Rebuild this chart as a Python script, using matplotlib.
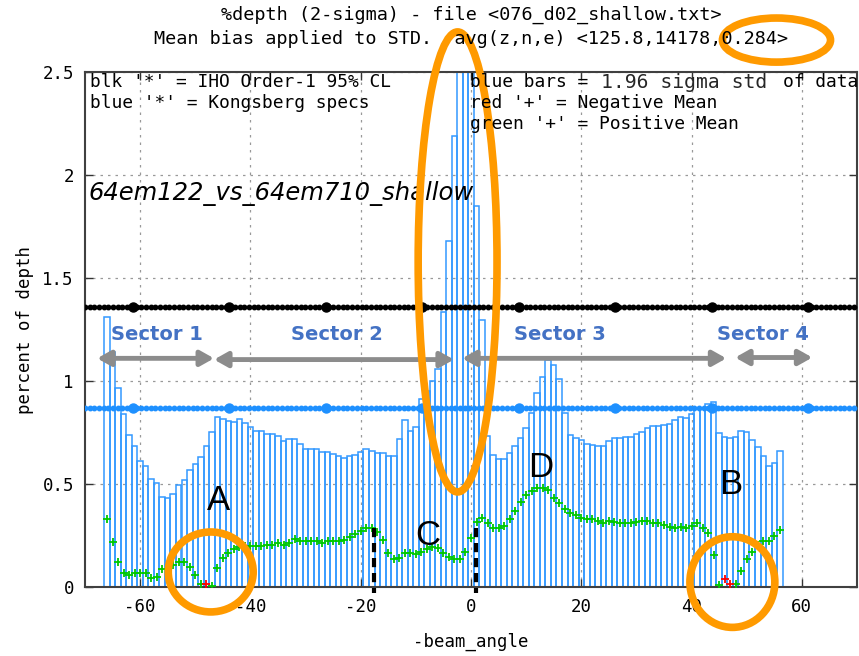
import matplotlib.pyplot as plt
import numpy as np
from matplotlib.patches import Ellipse

plt.rcParams['axes.unicode_minus'] = False
plt.rcParams['font.family'] = 'DejaVu Sans Mono'

# ----------------- DATA -----------------
angles = np.arange(-66, 57)

# 1.96 sigma std of data (percent of depth), one bar per degree
std_2sigma = [
    1.309, 1.142, 0.968, 0.838, 0.738, 0.686, 0.613, 0.587, 0.524, 0.506,
    0.438, 0.430, 0.451, 0.494, 0.519, 0.568, 0.596, 0.633, 0.684, 0.751,
    0.824, 0.814, 0.808, 0.801, 0.814, 0.795, 0.777, 0.757, 0.757, 0.741,
    0.744, 0.731, 0.710, 0.717, 0.717, 0.696, 0.668, 0.668, 0.668, 0.655,
    0.655, 0.646, 0.636, 0.628, 0.636, 0.643, 0.657, 0.668, 0.661, 0.649,
    0.649, 0.636, 0.636, 0.717, 0.811, 0.757, 0.778, 0.914, 0.950, 1.000,
    1.057, 1.337, 1.681, 2.190, 2.900, 3.400, 3.100, 1.851, 1.296, 0.733,
    0.639, 0.621, 0.621, 0.649, 0.684, 0.725, 0.773, 0.846, 0.940, 1.018,
    1.102, 1.078, 1.011, 0.846, 0.738, 0.725, 0.712, 0.696, 0.691, 0.686,
    0.686, 0.709, 0.725, 0.725, 0.730, 0.730, 0.743, 0.751, 0.773, 0.780,
    0.783, 0.785, 0.793, 0.811, 0.827, 0.821, 0.838, 0.866, 0.866, 0.890,
    0.900, 0.749, 0.730, 0.723, 0.730, 0.757, 0.751, 0.715, 0.680, 0.636,
    0.587, 0.602, 0.662,
]

# positive mean (green '+'), nan where mean is negative
nan = np.nan
pos_mean = [
    0.329, 0.220, 0.123, 0.070, 0.058, 0.066, 0.070, 0.070, 0.045, 0.050,
    0.086, 0.086, 0.105, 0.123, 0.123, 0.095, 0.058, 0.015, nan, 0.003,
    0.091, 0.139, 0.167, 0.183, 0.194, 0.201, 0.201, 0.201, 0.201, 0.204,
    0.204, 0.212, 0.204, 0.215, 0.231, 0.223, 0.223, 0.223, 0.223, 0.215,
    0.223, 0.223, 0.223, 0.228, 0.244, 0.256, 0.272, 0.285, 0.288, 0.265,
    0.228, 0.163, 0.134, 0.142, 0.163, 0.163, 0.159, 0.168, 0.183, 0.196,
    0.188, 0.163, 0.146, 0.134, 0.134, 0.168, 0.239, 0.317, 0.333, 0.312,
    0.288, 0.288, 0.296, 0.329, 0.371, 0.414, 0.447, 0.468, 0.479, 0.479,
    0.471, 0.430, 0.406, 0.377, 0.361, 0.350, 0.333, 0.330, 0.329, 0.322,
    0.312, 0.322, 0.317, 0.309, 0.309, 0.309, 0.317, 0.322, 0.322, 0.309,
    0.309, 0.301, 0.293, 0.285, 0.293, 0.288, 0.296, 0.309, 0.285, 0.260,
    0.155, 0.010, nan, nan, 0.015, 0.078, 0.134, 0.170, 0.205, 0.224,
    0.224, 0.250, 0.277,
]

# negative mean (red '+')
neg_angles = [-48, 46, 47]
neg_mean = [0.016, 0.038, 0.015]

iho_level = 1.358        # IHO Order-1 95% CL
kongsberg_level = 0.867  # Kongsberg specs

# sector annotations
sector_names = ["Sector 1", "Sector 2", "Sector 3", "Sector 4"]
sector_start = [-67.8, -46.6, -1.6, 47.9]
sector_end = [-46.6, -3.1, 46.3, 61.9]
sector_label_x = [-57.0, -24.4, 16.2, 52.9]
letters = ["A", "B", "C", "D"]
letter_x = [-45.8, 47.1, -7.9, 12.7]
letter_y = [0.422, 0.500, 0.252, 0.578]
dash_x = [-17.65, 0.83]

W, H = 859, 656
fig = plt.figure(figsize=(W / 100, H / 100), dpi=100)
ax = fig.add_axes([85 / W, 1 - 587 / H, 772 / W, 515 / H])

blue = '#3399ff'

# bars (unfilled, gnuplot style boxes)
ax.bar(angles, std_2sigma, width=1.0, fill=False, edgecolor=blue, linewidth=1.1, zorder=2)

# reference lines: dense dots + bigger dots
xs = np.arange(-70, 70.01, 0.85)
big = np.arange(-61.3, 70, 17.5)
for lvl, col in [(iho_level, 'black'), (kongsberg_level, '#1e90ff')]:
    ax.plot(xs, np.full_like(xs, lvl), color=col, lw=1.6, marker='o', ms=3.2,
            mec=col, mfc=col, zorder=3, clip_on=True)
    ax.plot(big, np.full_like(big, lvl), 'o', color=col, ms=6.5, zorder=3)

# means
ax.plot(angles, pos_mean, '+', color='#00c800', ms=6, mew=1.3, zorder=4)
ax.plot(neg_angles, neg_mean, '+', color='red', ms=6, mew=1.3, zorder=4)

ax.set_xlim(-70, 70)
ax.set_ylim(0, 2.5)
ax.set_xticks(np.arange(-60, 61, 20))
ax.set_yticks([0, 0.5, 1, 1.5, 2, 2.5])
ax.set_yticklabels(['0', '0.5', '1', '1.5', '2', '2.5'])
ax.tick_params(direction='in', length=6, width=1, top=True, right=True,
               labelsize=12.5, pad=8, color='#333333')
ax.grid(True, color='#999999', linestyle=(0, (2, 4)), linewidth=0.9)
ax.set_axisbelow(True)
for sp in ax.spines.values():
    sp.set_color('#404040')
    sp.set_linewidth(1.5)

ax.set_xlabel('-beam_angle', fontsize=12.5, labelpad=12)
ax.set_ylabel('percent of depth', fontsize=12.5, labelpad=6)

# title
fig.text(471 / W, 1 - 15 / H, '%depth (2-sigma) - file <076_d02_shallow.txt>',
         ha='center', va='center', fontsize=13.3)
fig.text(471 / W, 1 - 39 / H, 'Mean bias applied to STD.  avg(z,n,e) <125.8,14178,0.284>',
         ha='center', va='center', fontsize=13.3)

# key text
def ftxt(x, y, s, **kw):
    fig.text(x / W, 1 - y / H, s, va='center', ha='left', zorder=6, **kw)

ftxt(90, 82, "blk '*' = IHO Order-1 95% CL", fontsize=12.9)
ftxt(90, 103, "blue '*' = Kongsberg specs", fontsize=12.9)
ftxt(470, 82, "blue bars = ", fontsize=12.9)
ftxt(601, 83, "1.96 sigma std", fontsize=14.2, color='#262626')
ftxt(783, 82, "of data", fontsize=12.9, clip_on=False)
ftxt(470, 103, "red '+' = Negative Mean", fontsize=12.9)
ftxt(470, 124, "green '+' = Positive Mean", fontsize=12.9)

ax.text(-69.4, 1.908, '64em122_vs_64em710_shallow', ha='left', va='center',
        fontsize=17.5, style='italic', family='DejaVu Sans', zorder=6)

# sectors
sec_y = [1.110, 1.104, 1.110, 1.114]
for name, x0, x1, lx, sy in zip(sector_names, sector_start, sector_end, sector_label_x, sec_y):
    ax.annotate('', xy=(x1, sy), xytext=(x0, sy),
                arrowprops=dict(arrowstyle='<|-|>,head_length=0.8,head_width=0.45',
                                color='#8c8c8c', lw=3.5, shrinkA=0, shrinkB=0),
                zorder=6)
    ax.text(lx, 1.226, name, ha='center', va='center', fontsize=14,
            fontweight='bold', family='DejaVu Sans', color='#4472c4', zorder=6)

for s, lx, ly in zip(letters, letter_x, letter_y):
    ax.text(lx, ly, s, ha='center', va='center', fontsize=25,
            family='Liberation Sans', color='black', zorder=6)

for dx in dash_x:
    ax.plot([dx, dx], [0.286, -0.03], color='black', lw=3, dashes=(2.2, 1.4),
            clip_on=False, zorder=7)

# orange highlight ellipses
orange = '#ff9a00'
ell = [(-2.43, 1.578, 14.3, 2.233), (55.4, 2.655, 19.6, 0.214),
       (-47.2, 0.073, 15.4, 0.388), (47.4, 0.024, 15.4, 0.44)]
for cx, cy, ew, eh in ell:
    ax.add_patch(Ellipse((cx, cy), ew, eh, fill=False, edgecolor=orange, lw=5.5,
                         clip_on=False, zorder=8))

fig.savefig('out.png', dpi=100)
